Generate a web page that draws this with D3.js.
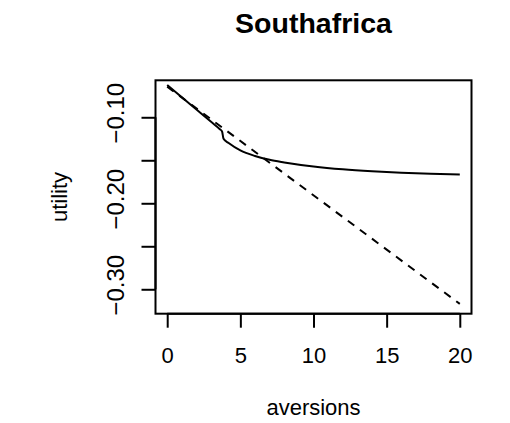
<!DOCTYPE html>
<html>
<head>
<meta charset="utf-8">
<script src="https://cdn.jsdelivr.net/npm/d3@7/dist/d3.min.js"></script>
<style>
  body { margin: 0; background: #fff; }
  svg text { font-family: "Liberation Sans", Arial, sans-serif; fill: #000; }
</style>
</head>
<body>
<svg id="chart" width="510" height="423"></svg>
<script>
// values
const aversions = [0, 1, 2, 3, 3.6, 3.75, 3.85, 4.2, 5, 6, 7, 8, 10, 12, 14, 16, 18, 20];
const utility = [-0.0624, -0.0767, -0.091, -0.1053, -0.1139, -0.1165, -0.125, -0.13, -0.1385,
                 -0.145, -0.1495, -0.1525, -0.1572, -0.1605, -0.1628, -0.1645, -0.1657, -0.1665];
const refX = [0, 20];
const refY = [-0.0644, -0.317];
const xTicks = [0, 5, 10, 15, 20];
const yTicks = [-0.10, -0.15, -0.20, -0.25, -0.30];
const yLabelled = [-0.10, -0.20, -0.30];

const box = {left: 155.5, right: 471.5, top: 80.3, bottom: 313.7};
const svg = d3.select("#chart");

const x = d3.scaleLinear().domain([-0.8, 20.8]).range([box.left, box.right]);
const y = d3.scaleLinear().domain([-0.3284, -0.057]).range([box.bottom, box.top]);

const line = d3.line()
    .x(d => x(d[0]))
    .y(d => y(d[1]));

// lines
svg.append("path")
    .attr("d", line.curve(d3.curveMonotoneX)(d3.zip(aversions, utility)))
    .attr("fill", "none")
    .attr("stroke", "#000")
    .attr("stroke-width", 2);

svg.append("path")
    .attr("d", d3.line().x(d => x(d[0])).y(d => y(d[1]))(d3.zip(refX, refY)))
    .attr("fill", "none")
    .attr("stroke", "#000")
    .attr("stroke-width", 2)
    .attr("stroke-dasharray", "8,7");

// plot frame
svg.append("rect")
    .attr("x", box.left).attr("y", box.top)
    .attr("width", box.right - box.left).attr("height", box.bottom - box.top)
    .attr("fill", "none").attr("stroke", "#000").attr("stroke-width", 2);

// x axis
const xAxis = svg.append("g")
    .attr("transform", `translate(0,${box.bottom})`)
    .call(d3.axisBottom(x).tickValues(xTicks).tickSize(14).tickPadding(0).tickFormat(() => ""));
xAxis.select(".domain")
    .attr("d", `M${x(0)},0H${x(20)}`)
    .attr("stroke-width", 2);
xAxis.selectAll(".tick line").attr("stroke-width", 2);
xAxis.selectAll(".tick").append("text")
    .attr("y", 363.4 - box.bottom)
    .attr("text-anchor", "middle")
    .style("font-size", "22px")
    .text(d => d);

// y axis
const yAxis = svg.append("g")
    .attr("transform", `translate(${box.left},0)`)
    .call(d3.axisLeft(y).tickValues(yTicks).tickSize(14).tickPadding(0).tickFormat(() => ""));
yAxis.select(".domain")
    .attr("d", `M0,${y(-0.10)}V${y(-0.30)}`)
    .attr("stroke-width", 2);
yAxis.selectAll(".tick line").attr("stroke-width", 2);
yAxis.selectAll(".tick")
    .filter(d => yLabelled.some(v => Math.abs(v - d) < 1e-9))
    .append("text")
    .attr("transform", `translate(${123.5 - box.left},-4.5) rotate(-90)`)
    .attr("text-anchor", "middle")
    .style("font-size", "24px")
    .text(d => d3.format(".2f")(d).replace("-", "\u2212"));

// titles
svg.append("text")
    .attr("x", 313.5).attr("y", 33.3)
    .attr("text-anchor", "middle")
    .style("font-size", "28.5px").style("font-weight", "bold")
    .text("Southafrica");

svg.append("text")
    .attr("x", 313.5).attr("y", 415)
    .attr("text-anchor", "middle")
    .style("font-size", "22px")
    .text("aversions");

svg.append("text")
    .attr("transform", `translate(67,197) rotate(-90)`)
    .attr("text-anchor", "middle")
    .style("font-size", "22px")
    .text("utility");
</script>
</body>
</html>
